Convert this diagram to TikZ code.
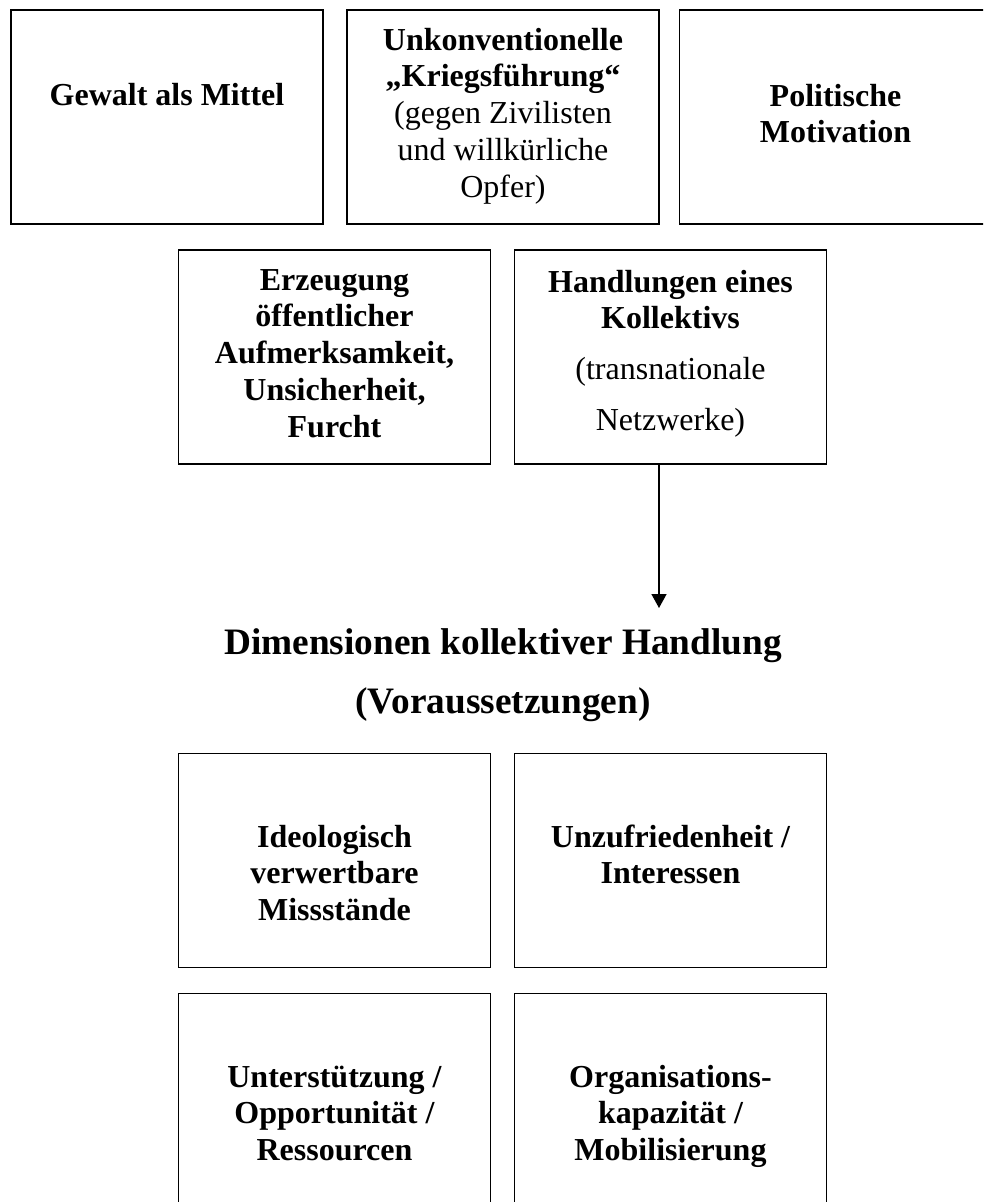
\documentclass[tikz,border=0pt]{standalone}
\usepackage{fontspec}
\setmainfont{Liberation Serif}
\usetikzlibrary{arrows.meta}

% text block whose reference point is the baseline of its first line
\newcommand{\blines}[1]{\parbox[t]{300pt}{\centering #1}}
\newcommand{\boxfont}{\fontsize{32pt}{36.8pt}\selectfont\bfseries}
\newcommand{\titlefont}{\fontsize{37.3pt}{44pt}\selectfont\bfseries}

\begin{document}
\begin{tikzpicture}[x=1pt, y=-1pt,
  box/.style={draw, line width=1.8pt, rectangle, inner sep=0pt,
              minimum width=312pt, minimum height=214pt},
  txt/.style={anchor=base, inner sep=0pt, font=\boxfont},
  ttl/.style={anchor=base, inner sep=0pt, font=\titlefont},
  link/.style={line width=1.5pt, -{Triangle[width=15pt,length=14pt]}}
]
\useasboundingbox (0,0) rectangle (983,1202);
\clip (0,0) rectangle (983,1202);

% upper row
\node[box] (gewalt) at (167,117) {};
\node[txt] (gewaltT) at (167,105) {\blines{Gewalt als Mittel}};

\node[box] (krieg) at (503,117) {};
\node[txt] (kriegT) at (503,50) {\blines{Unkonventionelle\\„Kriegsführung“\\
  \mdseries (gegen Zivilisten\\ \mdseries und willkürliche\\ \mdseries Opfer)}};

\node[box] (politik) at (835.5,117) {};
\node[txt] (politikT) at (835.5,106) {\blines{Politische\\Motivation}};

% middle row
\node[box] (furcht) at (334.5,357) {};
\node[txt] (furchtT) at (334.5,290) {\blines{Erzeugung\\öffentlicher\\Aufmerksamkeit,\\Unsicherheit,\\Furcht}};

\node[box] (kollektiv) at (670.5,357) {};
\node[txt] (kollektivT) at (670.5,292) {\blines{Handlungen eines\\Kollektivs\\[14pt]
  \mdseries (transnationale\\[14pt] \mdseries Netzwerke)}};

% heading
\node[ttl] (dim) at (503,654) {Dimensionen kollektiver Handlung};
\node[ttl] (vor) at (503,713) {(Voraussetzungen)};

\coordinate (tip) at (659,608);
\draw[link] (kollektiv.south -| tip) -- (tip);

% lower rows
\node[box] (ideo) at (334.5,860.5) {};
\node[txt] (ideoT) at (334.5,847) {\blines{Ideologisch\\verwertbare\\Missstände}};

\node[box] (unzu) at (670.5,860.5) {};
\node[txt] (unzuT) at (670.5,847) {\blines{Unzufriedenheit /\\Interessen}};

\node[box] (unter) at (334.5,1100.5) {};
\node[txt] (unterT) at (334.5,1087) {\blines{Unterstützung /\\Opportunität /\\Ressourcen}};

\node[box] (orga) at (670.5,1100.5) {};
\node[txt] (orgaT) at (670.5,1087) {\blines{Organisations-\\kapazität /\\Mobilisierung}};
\end{tikzpicture}
\end{document}
